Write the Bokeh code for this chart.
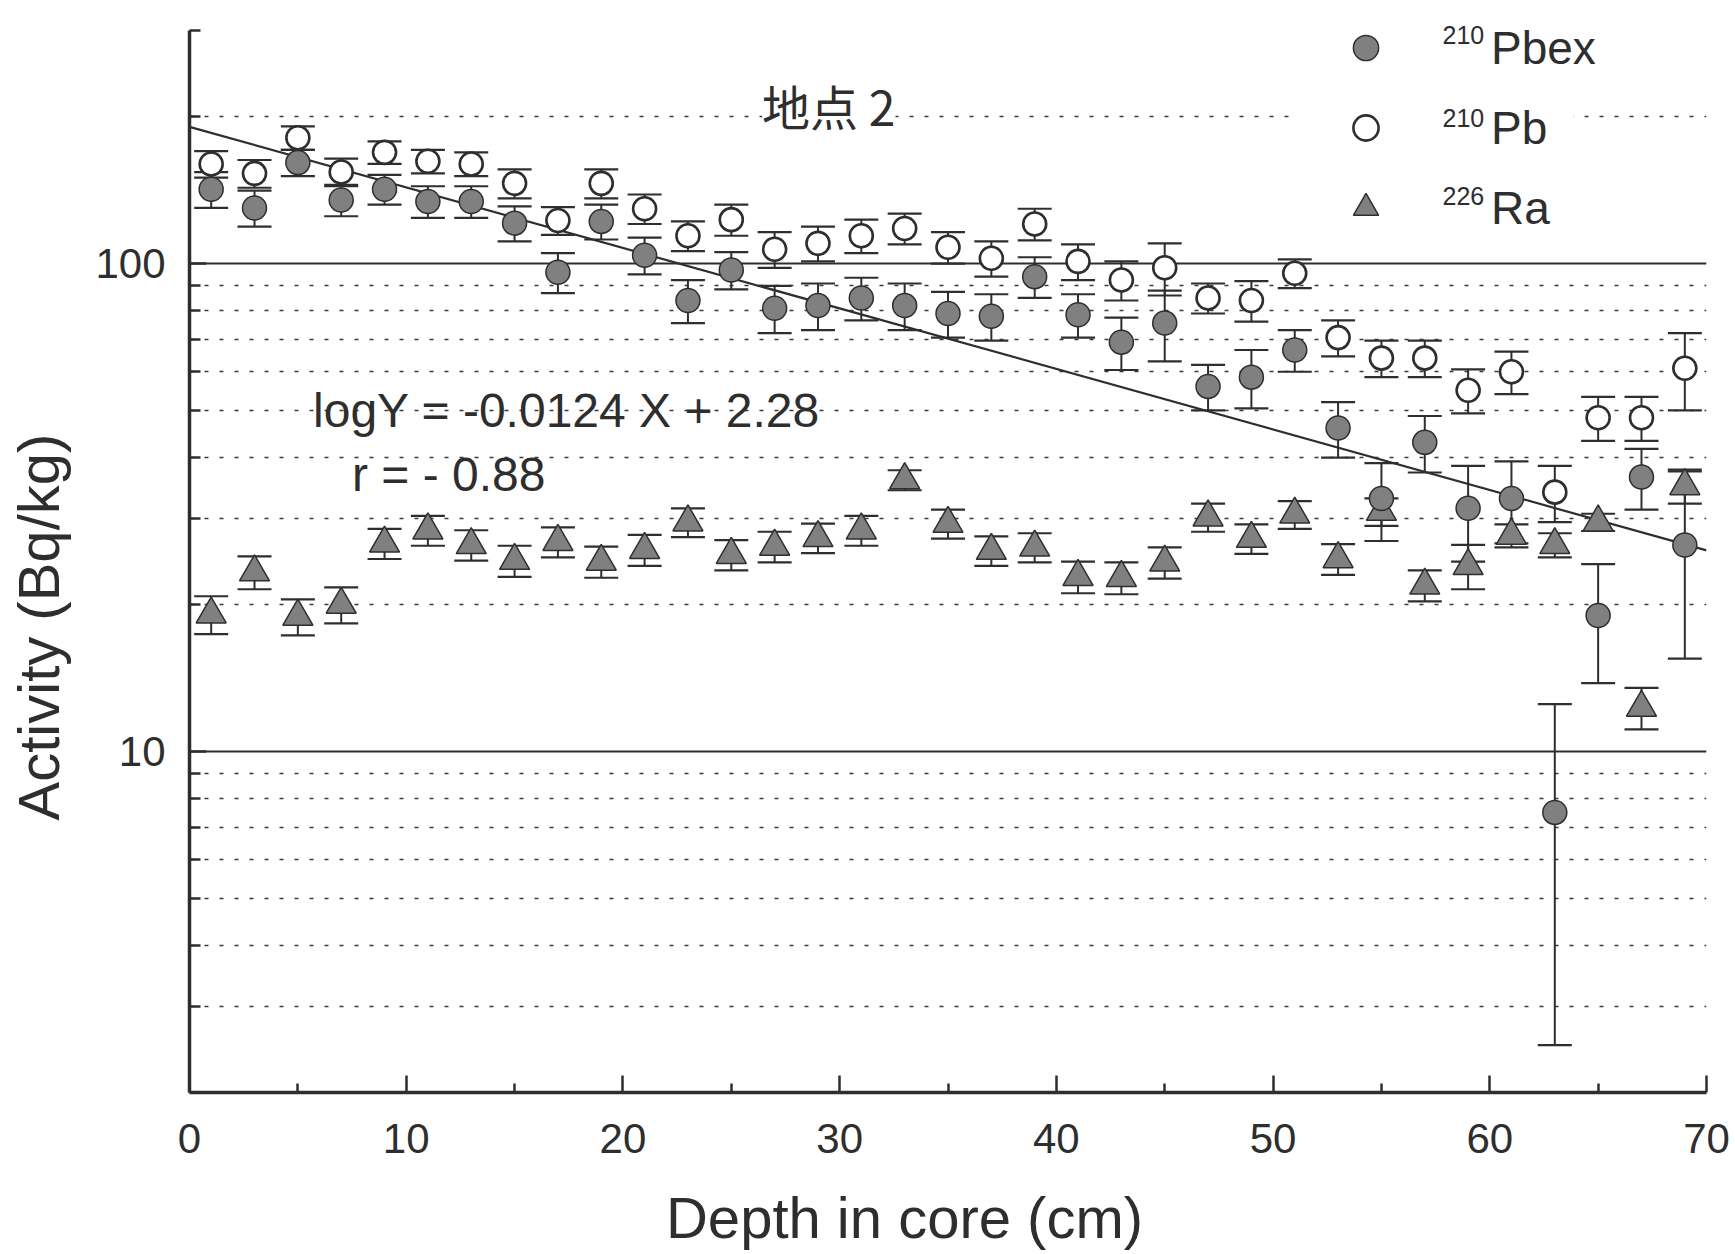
import numpy as np
from bokeh.plotting import figure
from bokeh.models import (Range1d, FixedTicker, ColumnDataSource, Whisker, TeeHead,
                          Label, Legend, LegendItem, BasicTickFormatter, BoxAnnotation)
from bokeh.embed import file_html
from bokeh.resources import INLINE

# ---------------- data ----------------
depth = list(range(1, 70, 2))  # cm

pbex = [142, 130, 161, 135, 142, 134, 134, 121, 96, 122, 104,
        84, 97, 81, 82, 85, 82, 79, 78, 94, 78.5, 69,
        75.5, 56, 58.5, 66.5, 46, 33, 43, 31.5, 33, 7.5, 19, 36.5, 26.5]
pbex_err = [12, 11, 10, 10, 10, 10, 10, 10, 9, 10, 9,
            8.5, 8.5, 9, 9, 8.5, 9, 8.5, 8.5, 9, 8, 8.5,
            12.5, 6, 8, 6.5, 6, 6, 5.7, 7, 6.3, 5, 5.2, 5.2, 11]

pb = [160, 153, 181, 154, 169, 162, 160, 146, 122.5, 146, 129.5,
      114, 123, 107, 110, 114, 118, 108, 102.5, 120.5, 101, 92.5,
      98, 85, 84, 95.5, 70.5, 64, 64, 55, 60, 34, 48.3, 48.3, 61]
pb_err = [10, 10, 10, 10, 9, 9, 9, 10, 8, 10, 9,
          8, 9, 9, 9, 9, 8.5, 8, 8.5, 9, 8.5, 8.5,
          12, 6, 8, 6.5, 6, 5.5, 5.5, 5.7, 6, 4.5, 5, 5, 11]

ra = [19.1, 23.3, 18.9, 20.0, 26.7, 28.4, 26.5, 24.6, 26.9, 24.5, 25.9,
      29.5, 25.3, 26.3, 27.4, 28.4, 36.0, 29.3, 25.8, 26.2, 22.8, 22.7,
      24.4, 30.2, 27.3, 30.6, 24.8, 31.0, 21.9, 24.0, 27.7, 26.5, 29.5, 12.3, 35.0]
ra_err = [1.7, 1.8, 1.6, 1.7, 1.9, 2.0, 1.9, 1.8, 1.9, 1.8, 1.9,
          2.0, 1.8, 1.9, 1.9, 2.0, 1.7, 2.0, 1.8, 1.8, 1.7, 1.7,
          1.8, 2.0, 1.9, 2.0, 1.8, 2.0, 1.6, 2.5, 1.5, 1.5, 1.2, 1.2, 2.8]

fit_slope = -0.0124
fit_intercept = 2.28

x_ticks = [0, 10, 20, 30, 40, 50, 60, 70]
x_minor = [5, 15, 25, 35, 45, 55, 65]
y_ticks = [10, 100]
y_minor = [2, 3, 4, 5, 6, 7, 8, 9, 20, 30, 40, 50, 60, 70, 80, 90, 200, 300]
y_grid_minor = [3, 4, 5, 6, 7, 8, 9, 20, 30, 40, 50, 60, 70, 80, 90, 200]

legend_names = ["Pbex", "Pb", "Ra"]
legend_mass = ["210", "210", "226"]

x_min, x_max = 0, 70
y_min, y_max = 2, 300      # extent of the drawn y axis
y_view_top = 346           # frame reaches the top edge (room for the legend)

# ---------------- style ----------------
INK = "#2e2e2e"
GRAY = "#808080"
FONT = "Liberation Sans"
EN = "\u2002"
NB = "\u00a0"

p = figure(width=1735, height=1254, output_backend="svg", toolbar_location=None,
           title=None,
           x_range=Range1d(x_min, x_max), y_range=Range1d(y_min, y_view_top),
           y_axis_type="log",
           min_border_left=189, min_border_right=29,
           min_border_top=0, min_border_bottom=162)
p.outline_line_color = None
p.background_fill_color = "white"
p.border_fill_color = "white"

# x axis
xa = p.xaxis[0]
xa.ticker = FixedTicker(ticks=x_ticks, minor_ticks=x_minor)
xa.major_label_text_font = FONT
xa.major_label_text_font_size = "42px"
xa.major_label_text_color = INK
xa.major_label_standoff = 31
xa.axis_line_width = 3.5
xa.axis_line_color = INK
xa.major_tick_in = 17
xa.major_tick_out = 0
xa.minor_tick_in = 9
xa.minor_tick_out = 0
xa.major_tick_line_width = 2.5
xa.minor_tick_line_width = 2.5
xa.major_tick_line_color = INK
xa.minor_tick_line_color = INK
# trailing spaces shift the centred title left, as in the original
xa.axis_label = "Depth in core (cm)" + EN * 3
xa.axis_label_text_font = FONT
xa.axis_label_text_font_size = "58px"
xa.axis_label_text_font_style = "normal"
xa.axis_label_text_color = INK
xa.axis_label_standoff = 29

# y axis
ya = p.yaxis[0]
ya.ticker = FixedTicker(ticks=y_ticks, minor_ticks=y_minor)
ya.formatter = BasicTickFormatter(use_scientific=False)
ya.bounds = (y_min, y_max)
ya.major_label_text_font = FONT
ya.major_label_text_font_size = "42px"
ya.major_label_text_color = INK
ya.major_label_standoff = 24
ya.axis_line_width = 3.5
ya.axis_line_color = INK
ya.major_tick_in = 17
ya.major_tick_out = 0
ya.minor_tick_in = 11
ya.minor_tick_out = 0
ya.major_tick_line_width = 2.5
ya.minor_tick_line_width = 2.5
ya.major_tick_line_color = INK
ya.minor_tick_line_color = INK
# trailing spaces shift the centred title downwards, as in the original
ya.axis_label = "Activity (Bq/kg)" + EN * 5 + NB
ya.axis_label_text_font = FONT
ya.axis_label_text_font_size = "58px"
ya.axis_label_text_font_style = "normal"
ya.axis_label_text_color = INK
ya.axis_label_standoff = 21

# grids
p.xgrid.visible = False
yg = p.ygrid[0]
yg.ticker = FixedTicker(ticks=y_ticks, minor_ticks=y_grid_minor)
yg.grid_line_color = INK
yg.grid_line_width = 2
yg.minor_grid_line_color = "#3a3a3a"
yg.minor_grid_line_width = 1.6
yg.minor_grid_line_dash = "4 11"

# white patch behind the legend (interrupts the dotted grid line there)
p.add_layout(BoxAnnotation(left=1105, right=1384, bottom=857, top=1090,
                           left_units="screen", right_units="screen",
                           bottom_units="screen", top_units="screen",
                           fill_color="white", fill_alpha=1.0, line_color=None,
                           level="underlay"))

# regression line
fit_x = np.array([x_min, x_max], dtype=float)
fit_y = 10 ** (fit_intercept + fit_slope * fit_x)
p.line(fit_x, fit_y, line_color=INK, line_width=2.2)

# sources
d = np.array(depth, dtype=float)
def src(vals, errs):
    v = np.array(vals, dtype=float)
    e = np.array(errs, dtype=float)
    return ColumnDataSource(dict(x=d, y=v, upper=v + e, lower=v - e))

s_pbex = src(pbex, pbex_err)
s_pb = src(pb, pb_err)
s_ra = src(ra, ra_err)

for s in (s_pbex, s_pb, s_ra):
    w = Whisker(base="x", upper="upper", lower="lower", source=s,
                line_color=INK, line_width=2,
                upper_head=TeeHead(size=34, line_color=INK, line_width=2.2),
                lower_head=TeeHead(size=34, line_color=INK, line_width=2.2))
    p.add_layout(w)

r_ra = p.scatter("x", "y", source=s_ra, marker="triangle", size=30,
                 fill_color=GRAY, line_color=INK, line_width=1.5)
r_pb = p.scatter("x", "y", source=s_pb, marker="circle", size=23,
                 fill_color="white", line_color=INK, line_width=2.6)
r_pbex = p.scatter("x", "y", source=s_pbex, marker="circle", size=24,
                   fill_color=GRAY, line_color=INK, line_width=1.5)

# annotations
p.add_layout(Label(x=29.5, y=211, text="地点 2", text_font="Noto Sans CJK JP",
                   text_font_size="48px", text_color=INK, text_align="center",
                   text_baseline="middle", background_fill_color="white",
                   background_fill_alpha=1.0))
p.add_layout(Label(x=5.7, y=50, text="logY = -0.0124 X + 2.28", text_font=FONT,
                   text_font_size="48px", text_color=INK, text_align="left",
                   text_baseline="alphabetic"))
p.add_layout(Label(x=7.5, y=36.9, text="r = - 0.88", text_font=FONT,
                   text_font_size="48px", text_color=INK, text_align="left",
                   text_baseline="alphabetic"))

# legend (transparent; mass numbers added as small raised labels)
legend = Legend(items=[LegendItem(label=legend_names[0], renderers=[r_pbex]),
                       LegendItem(label=legend_names[1], renderers=[r_pb]),
                       LegendItem(label=legend_names[2], renderers=[r_ra])],
                location=(1145, 853), orientation="vertical",
                glyph_width=63, glyph_height=63, label_height=63, spacing=17,
                label_standoff=94, padding=0, margin=0,
                border_line_color=None, background_fill_alpha=0.0,
                label_text_font=FONT, label_text_font_size="46px",
                label_text_color=INK)
p.add_layout(legend)

for txt, yb in zip(legend_mass, (1058, 975, 897)):
    p.add_layout(Label(x=1253, y=yb, x_units="screen", y_units="screen", text=txt,
                       text_font=FONT, text_font_size="25px", text_color=INK,
                       text_align="left", text_baseline="alphabetic",
                       level="overlay"))

open("out.html", "w").write(file_html(p, INLINE))
